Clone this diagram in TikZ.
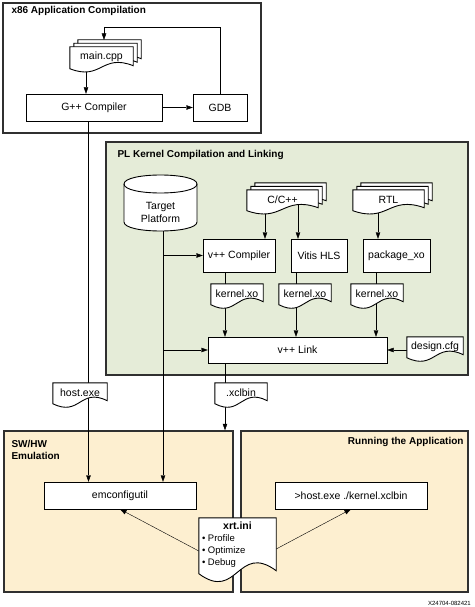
\documentclass[tikz,border=0pt]{standalone}
\usepackage{fontspec}
\setmainfont{Liberation Sans}
\usetikzlibrary{shapes,arrows,arrows.meta,calc,fit,positioning}

\definecolor{plgreen}{HTML}{E5ECD8}
\definecolor{emuyellow}{HTML}{FDEFD0}
\definecolor{framegray}{HTML}{303030}

\pgfdeclarelayer{groups}
\pgfdeclarelayer{lines}
\pgfdeclarelayer{docs}
\pgfsetlayers{groups,lines,docs,main}

\newcommand{\wavedoc}[3]{%
	\draw[doc line] ($(#1.south west)+#2+(0pt,-1.5pt)$) -- ($(#1.north west)+#2$) -- ($(#1.north east)+#2$) -- ($(#1.south east)+#2+(0pt,1.5pt)$)
		.. controls ($(#1.south)+#2+(0pt,#3)$) and ($(#1.south)+#2+(0pt,-#3)$) .. ($(#1.south west)+#2+(0pt,-1.5pt)$) -- cycle;}
\newcommand{\docback}[2]{\begin{pgfonlayer}{docs}\wavedoc{#1}{(0pt,0pt)}{#2}\end{pgfonlayer}}
\newcommand{\stackback}[1]{\begin{pgfonlayer}{docs}\wavedoc{#1}{(8pt,7pt)}{14pt}\wavedoc{#1}{(4pt,3.5pt)}{14pt}\wavedoc{#1}{(0pt,0pt)}{14pt}\end{pgfonlayer}}

\begin{document}
\begin{tikzpicture}[x=1pt,y=-1pt,->,>={Triangle[length=6.5pt,width=4.5pt]},line width=0.9pt,
		font=\fontsize{10.5}{12.5}\selectfont,
		box node/.style={rectangle, draw, fill=white, minimum height=27, inner sep=2pt},
		doc node/.style={rectangle, inner sep=0pt, minimum height=19},
		doc line/.style={-, draw, fill=white, line width=0.9pt},
		group node/.style={rectangle, draw=framegray, line width=1.4pt},
		title node/.style={inner sep=0pt, font=\fontsize{10}{12}\selectfont\bfseries}]

	\useasboundingbox (0,0) rectangle (474,607);

	\begin{pgfonlayer}{groups}
	\node[group node, fill=white, minimum width=258, minimum height=130] (91) at (132,68) {};
	\node[group node, fill=plgreen, minimum width=362, minimum height=233] (92) at (287,258.5) {};
	\node[group node, fill=emuyellow, minimum width=229, minimum height=161] (93) at (118.5,511.5) {};
	\node[group node, fill=emuyellow, minimum width=227, minimum height=161] (94) at (354.5,511.5) {};
	\end{pgfonlayer}
	\node[title node, anchor=west] (95) at ($(91.north west)+(9pt,-9pt)$) {x86 Application Compilation};
	\node[title node, anchor=west] (96) at ($(92.north west)+(12pt,-14pt)$) {PL Kernel Compilation and Linking};
	\node[title node, anchor=north west, align=left] (97) at ($(93.north west)+(8pt,-10pt)$) {SW/HW\\Emulation};
	\node[title node, anchor=east] (98) at ($(94.north east)+(-5pt,-12pt)$) {Running the Application};
	\node[font=\fontsize{6}{7}\selectfont, inner sep=0pt, anchor=east] (99) at (471,603) {X24704-082421};

	\node[doc node, minimum width=63, minimum height=20] (1) at (101.5,57) {main.cpp};
	\node[box node, minimum width=136] (2) at (94,107.5) {G++ Compiler};
	\node[box node, minimum width=54] (3) at (220,107.5) {GDB};
	\node[align=center, inner sep=0pt] (4) at (160.5,212.5) {Target\\Platform};
	\node[doc node, minimum width=71] (5) at (282.5,199.5) {C/C++};
	\node[doc node, minimum width=71] (6) at (388.5,199.5) {RTL};
	\node[box node, minimum width=72, minimum height=33] (7) at (239,255.5) {v++ Compiler};
	\node[box node, minimum width=56, minimum height=33] (8) at (319,255.5) {Vitis HLS};
	\node[box node, minimum width=67, minimum height=33] (9) at (396.5,255.5) {package\_xo};
	\node[doc node, minimum width=52] (10) at (237,293.5) {kernel.xo};
	\node[doc node, minimum width=52] (11) at (305,293.5) {kernel.xo};
	\node[doc node, minimum width=52] (12) at (377,293.5) {kernel.xo};
	\node[box node, minimum width=179, minimum height=26] (13) at (297.5,350) {v++ Link};
	\node[doc node, minimum width=56] (14) at (435,346.5) {design.cfg};
	\node[doc node, minimum width=54] (15) at (80,392.5) {host.exe};
	\node[doc node, minimum width=52] (16) at (241,392.5) {.xclbin};
	\node[box node, minimum width=152] (17) at (120,495.5) {emconfigutil};
	\node[box node, minimum width=152] (18) at (351,495.5) {>host.exe ./kernel.xclbin};
	\node[doc node, minimum width=77, minimum height=54, align=center, font=\fontsize{9.5}{12}\selectfont] (19) at (237.5,545)
		{{\fontsize{10.5}{12}\selectfont\bfseries xrt.ini}\\
		 \makebox[71pt][l]{\textbullet\ Profile}\\
		 \makebox[71pt][l]{\textbullet\ Optimize}\\
		 \makebox[71pt][l]{\textbullet\ Debug}};

	\stackback{1}
	\stackback{5}
	\stackback{6}
	\docback{10}{15pt}
	\docback{11}{15pt}
	\docback{12}{15pt}
	\docback{14}{15pt}
	\docback{15}{15pt}
	\docback{16}{15pt}
	\docback{19}{30pt}
	\begin{pgfonlayer}{docs}
	\draw[doc line] ($(4)+(-36.5pt,28.5pt)$) -- ($(4)+(-36.5pt,-9.5pt)$)
		.. controls ($(4)+(-36.5pt,-21.5pt)$) and ($(4)+(36.5pt,-21.5pt)$) .. ($(4)+(36.5pt,-9.5pt)$)
		-- ($(4)+(36.5pt,28.5pt)$) .. controls ($(4)+(36.5pt,40.5pt)$) and ($(4)+(-36.5pt,40.5pt)$) .. cycle;
	\draw[doc line, fill=none] ($(4)+(-36.5pt,28.5pt)$) .. controls ($(4)+(-36.5pt,16.5pt)$) and ($(4)+(36.5pt,16.5pt)$) .. ($(4)+(36.5pt,28.5pt)$);
	\end{pgfonlayer}

	\begin{pgfonlayer}{lines}
	\coordinate (20) at (86,57);
	\coordinate (21) at (220,27);
	\coordinate (22) at (104,27);
	\coordinate (23) at (104,40);
	\coordinate (24) at (88.5,107.5);
	\coordinate (25) at (163,212);
	\coordinate (26) at (265,199.5);
	\coordinate (27) at (298,199.5);
	\coordinate (28) at (378,199.5);
	\coordinate (29) at (225,255.5);
	\coordinate (30) at (296,255.5);
	\coordinate (31) at (376,255.5);
	\coordinate (32) at (225,350);
	\coordinate (33) at ($(19.west)+(0pt,-6pt)$);
	\coordinate (34) at ($(19.east)+(0pt,-4pt)$);

		\path	(20)	edge node{} (20 |- 2.north);
		\path	(2)		edge node{} (3);
		\path	(3)		edge[-] node{} (21);
		\path	(21)	edge[-] node{} (22);
		\path	(22)	edge node{} (23);
		\path	(24)	edge node{} (24 |- 17.north);
		\path	(25)	edge node{} (25 |- 17.north)
				(25 |- 7.west)	edge node{} (7)
				(25 |- 13.west)	edge node{} (13);
		\path	(26)	edge node{} (26 |- 7.north);
		\path	(27)	edge node{} (27 |- 8.north);
		\path	(28)	edge node{} (28 |- 9.north);
		\path	(29)	edge node{} (29 |- 13.north);
		\path	(30)	edge node{} (30 |- 13.north);
		\path	(31)	edge node{} (31 |- 13.north);
		\path	(14 |- 13)	edge node{} (13);
		\path	(32)	edge node{} (32 |- 93.north);
		\path	(33)	edge node{} (17.south);
		\path	(34)	edge node{} (18.south);
	\end{pgfonlayer}
\end{tikzpicture}
\end{document}
